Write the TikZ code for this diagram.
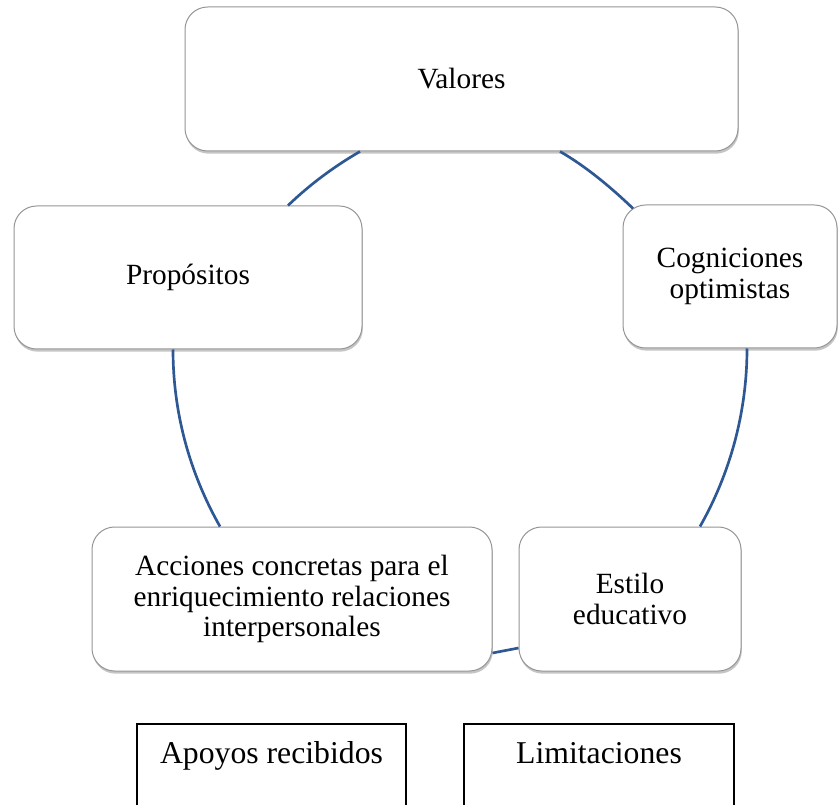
\documentclass[tikz,border=0pt]{standalone}
\usepackage{fontspec}
\setmainfont{Liberation Serif}
\usetikzlibrary{shadows}
\definecolor{arcblue}{RGB}{46,88,148}
\definecolor{boxline}{RGB}{150,150,150}
\tikzset{
  sabox/.style={draw=boxline, line width=0.75pt, fill=white, rounded corners=17pt,
    align=center, inner sep=0pt, font=\fontsize{22}{23}\selectfont,
    drop shadow={shadow xshift=0.6pt, shadow yshift=-2pt, opacity=0.45, fill=gray}},
  plainbox/.style={draw=black, line width=1.25pt, fill=white, inner xsep=0pt, inner ysep=0pt,
    text height=30pt, text depth=60pt, anchor=north, font=\fontsize{23.8}{28}\selectfont},
  cyclearc/.style={draw=arcblue, line width=2pt}
}
\begin{document}
\begin{tikzpicture}[x=0.75pt,y=0.75pt]
\useasboundingbox (0,0) rectangle (838,804);
\clip (0,0) rectangle (838,804);
\fill[white] (0,0) rectangle (838,804);

\node[sabox, minimum width=414.75pt, minimum height=108pt] (val) at (461.5,725) {Valores};
\node[sabox, minimum width=261pt, minimum height=107.25pt] (pro) at (188,526.5) {Propósitos};
\node[sabox, minimum width=160.5pt, minimum height=107.25pt] (cog) at (730,527.5) {Cogniciones\\optimistas};
\node[sabox, minimum width=300pt, minimum height=108pt] (acc) at (292,205) {Acciones concretas para el\\enriquecimiento relaciones\\interpersonales};
\node[sabox, minimum width=166.5pt, minimum height=108pt] (est) at (630,205) {Estilo\\educativo};

\node[plainbox, minimum width=201.75pt] (apo) at (271.5,81) {Apoyos recibidos};
\node[plainbox, minimum width=202.5pt] (lim) at (599,81) {Limitaciones};

\draw[cyclearc] ([xshift=-76.1pt]val.south) .. controls +(-19.5pt,-11.25pt) and +(16.2pt,15.6pt) .. ([xshift=75pt]pro.north);
\draw[cyclearc] ([xshift=73.9pt]val.south) .. controls +(19.5pt,-11.25pt) and +(-16.2pt,15.6pt) .. ([xshift=-72.75pt,yshift=-3pt]cog.north);
\draw[cyclearc] ([xshift=12.75pt]cog.south) .. controls +(0pt,-46.8pt) and +(23.1pt,40.7pt) .. ([xshift=52.5pt]est.north);
\draw[cyclearc] ([yshift=-36.75pt]est.west) -- ([yshift=-40.5pt]acc.east);
\draw[cyclearc] ([xshift=-54pt]acc.north) .. controls +(-23.1pt,40.7pt) and +(0pt,-46.8pt) .. ([xshift=-11.25pt]pro.south);
\end{tikzpicture}
\end{document}
